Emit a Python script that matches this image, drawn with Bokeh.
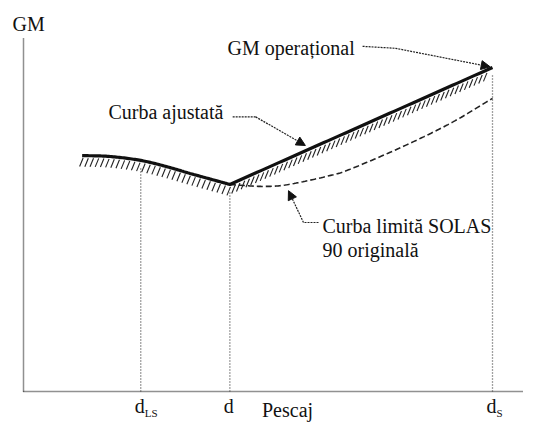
import numpy as np
from bokeh.plotting import figure
from bokeh.models import Arrow, NormalHead, Range1d
from bokeh.core.properties import value
from bokeh.embed import file_html
from bokeh.resources import INLINE

# ---------------- data ----------------
tick_names = ["d", "d", "d"]
tick_subs = ["LS", "", "S"]
tick_pos = [2.5, 4.4, 10.0]

draft_adj = [1.25, 1.85, 2.5, 3.05, 3.55, 4.1, 4.4, 10.0]
gm_adj = [7.26, 7.23, 7.11, 6.92, 6.71, 6.49, 6.37, 9.97]

draft_solas = [4.4, 5.1, 5.65, 6.55, 7.0, 8.05, 9.1, 10.0]
gm_solas = [6.37, 6.31, 6.37, 6.65, 6.86, 7.51, 8.25, 9.02]

axis_titles = ["GM", "Pescaj"]
notes = ["GM operațional", "Curba ajustată", "Curba limită SOLAS", "90 originală"]

# ---------------- layout ----------------
W, H = 523, 422
SX, SY = 46.9, 32.5          # pixels per data unit
X0, Y0 = 23, 391             # frame pixel position of data origin
TDY = 7 / SY                 # correction for rendered text baseline
FONT = value("Liberation Serif")
INK = "#111111"

p = figure(width=W, height=H, output_backend="svg", toolbar_location=None,
           x_range=Range1d(-X0 / SX, (W - X0) / SX),
           y_range=Range1d(-(H - Y0) / SY, Y0 / SY),
           x_axis_location=None, y_axis_location=None, min_border=0)
p.outline_line_color = None
p.grid.visible = False
p.background_fill_color = "white"


def catmull(xs, ys, n=20):
    xs, ys = np.asarray(xs, float), np.asarray(ys, float)
    P = np.column_stack([xs, ys])
    P = np.vstack([P[0] * 2 - P[1], P, P[-1] * 2 - P[-2]])
    out = []
    for i in range(1, len(P) - 2):
        p0, p1, p2, p3 = P[i - 1], P[i], P[i + 1], P[i + 2]
        t = np.linspace(0, 1, n, endpoint=False)[:, None]
        pts = 0.5 * ((2 * p1) + (-p0 + p2) * t + (2 * p0 - 5 * p1 + 4 * p2 - p3) * t ** 2
                     + (-p0 + 3 * p1 - 3 * p2 + p3) * t ** 3)
        out.append(pts)
    out.append(P[-2][None, :])
    o = np.vstack(out)
    return o[:, 0], o[:, 1]


# adjusted curve: smooth left part, then straight to GM operational
lx, ly = catmull(draft_adj[:-1], gm_adj[:-1])
ax_ = np.concatenate([lx, np.linspace(draft_adj[-2], draft_adj[-1], 60)[1:]])
ay_ = np.concatenate([ly, np.linspace(gm_adj[-2], gm_adj[-1], 60)[1:]])

sx_, sy_ = catmull(draft_solas, gm_solas)

# axes (dotted)
y_top = 10.86
p.line([0, 0], [0, y_top], line_color="#222222", line_width=1.5, line_dash="1 1")
p.line([0, 12], [0, 0], line_color="#222222", line_width=1.5, line_dash="1 1")

# vertical guide lines
for t in tick_pos:
    g = float(np.interp(t, ax_, ay_))
    p.line([t, t], [0, g - 0.25], line_color="#444444", line_width=1.3, line_dash="1 2")

# hatching under adjusted curve
pxs, pys = ax_ * SX, -ay_ * SY
seg = np.hypot(np.diff(pxs), np.diff(pys))
s = np.concatenate([[0], np.cumsum(seg)])
ss = np.arange(0, s[-1] - 2, 5.2)
hx = np.interp(ss, s, pxs)
hy = np.interp(ss, s, pys)
p.segment(x0=(hx + 1.0) / SX, y0=-(hy + 2.5) / SY,
          x1=(hx - 2.5) / SX, y1=-(hy + 11.0) / SY,
          line_color="#222222", line_width=1.1)

# curves
p.line(sx_, sy_, line_color="#222222", line_width=1.6, line_dash="6 3")
p.line(ax_, ay_, line_color="#111111", line_width=3.2)

# tick labels with subscripts
base_y = -21 / SY + TDY
for name, sub, t in zip(tick_names, tick_subs, tick_pos):
    p.text(x=[t - 1.0 / SX], y=[base_y], text=[name], text_font=FONT, text_font_size="20px",
           text_align="center", text_baseline="alphabetic", text_color=INK)
    if sub:
        p.text(x=[t + 4.0 / SX], y=[base_y - 7 / SY], text=[sub], text_font=FONT,
               text_font_size="11px", text_align="left", text_baseline="alphabetic",
               text_color=INK)

# axis titles
p.text(x=[-11 / SX], y=[11.08 + TDY], text=[axis_titles[0]], text_font=FONT,
       text_font_size="20px", text_align="left", text_baseline="alphabetic", text_color=INK)
p.text(x=[5.63], y=[-25 / SY + TDY], text=[axis_titles[1]], text_font=FONT,
       text_font_size="20px", text_align="center", text_baseline="alphabetic", text_color=INK)

# annotations
note_x = [4.35, 1.81, 6.375, 6.375]
note_y = [10.34, 8.38, 4.89, 4.15]
p.text(x=note_x, y=[v + TDY for v in note_y], text=notes, text_font=FONT,
       text_font_size="20px", text_align="left", text_baseline="alphabetic", text_color=INK)


def leader(x0, y0, xm, ym, xe, ye):
    p.line([x0, xm], [y0, ym], line_color="#222222", line_width=1.2, line_dash="2 1")
    p.add_layout(Arrow(end=NormalHead(size=9, fill_color="#111111", line_color="#111111"),
                       x_start=xm, y_start=ym, x_end=xe, y_end=ye,
                       line_color="#222222", line_width=1.2, line_dash="2 1"))


leader(7.23, 10.62, 7.93, 10.56, draft_adj[-1] - 0.05, gm_adj[-1] + 0.02)
leader(4.46, 8.45, 4.95, 8.45, 6.01, 7.57)
leader(6.29, 5.2, 5.97, 5.2, 5.65, 6.18)

open("out.html", "w").write(file_html(p, INLINE))
